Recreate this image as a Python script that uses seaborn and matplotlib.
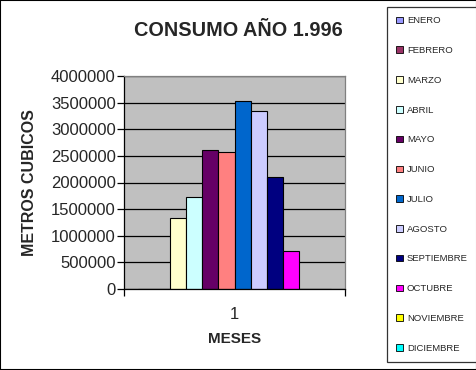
import pandas as pd
import seaborn as sns
import matplotlib.pyplot as plt
from matplotlib.patches import Patch, Rectangle

# datos
meses = ['ENERO', 'FEBRERO', 'MARZO', 'ABRIL', 'MAYO', 'JUNIO', 'JULIO',
         'AGOSTO', 'SEPTIEMBRE', 'OCTUBRE', 'NOVIEMBRE', 'DICIEMBRE']
consumo = [0, 0, 1333000, 1728000, 2610000, 2573000, 3536000,
           3343000, 2109000, 720000, 0, 0]
categoria = ['1'] * len(meses)
colores = ['#9999FF', '#993366', '#FFFFCC', '#CCFFFF', '#660066', '#FF8080',
           '#0066CC', '#CCCCFF', '#000080', '#FF00FF', '#FFFF00', '#00FFFF']
yticks = [0, 500000, 1000000, 1500000, 2000000, 2500000, 3000000, 3500000, 4000000]

df = pd.DataFrame({'grupo': categoria, 'mes': meses, 'valor': consumo})

sns.set_style("white")
plt.rcParams['font.family'] = ['Liberation Sans', 'DejaVu Sans']

fig = plt.figure(figsize=(4.77, 3.7), dpi=100)
ax = fig.add_axes([124 / 477, 1 - 289 / 370, 221 / 477, 213 / 370])
ax.set_facecolor('#C0C0C0')

sns.barplot(data=df, x='grupo', y='valor', hue='mes', hue_order=meses,
            palette=colores, edgecolor='black', linewidth=0.8, width=0.87,
            saturation=1, legend=False, ax=ax)

ax.set_ylim(0, 4000000)
ax.set_xlim(-0.5, 0.5)
ax.set_yticks(yticks)
ax.set_yticklabels([str(v) for v in yticks], fontsize=12)
ax.yaxis.grid(True, color='black', linewidth=0.9)
ax.set_axisbelow(True)
ax.tick_params(axis='y', length=5, width=0.9, color='black', pad=1, left=True)
ax.set_xticks([0])
ax.set_xticklabels(['1'], fontsize=12)
ax.set_xticks([-0.5, 0.5], minor=True)
ax.tick_params(axis='x', which='major', length=0, pad=13)
ax.tick_params(axis='x', which='minor', length=5, width=0.9, color='black', bottom=True)

for s in ['left', 'bottom']:
    ax.spines[s].set_color('black')
    ax.spines[s].set_linewidth(0.9)
for s in ['top', 'right']:
    ax.spines[s].set_color('#808080')
    ax.spines[s].set_linewidth(0.9)

ax.set_xlabel('MESES', fontsize=11, fontweight='bold', labelpad=7)
ax.set_ylabel('METROS CUBICOS', fontsize=11.5, fontweight='bold', labelpad=10)
fig.text(238 / 477, 1 - 31 / 370, 'CONSUMO AÑO 1.996', fontsize=14.3,
         fontweight='bold', ha='center', va='center')

handles = [Patch(facecolor=c, edgecolor='black', linewidth=0.6) for c in colores]
leg = fig.legend(handles, meses, loc='center', bbox_to_anchor=(432 / 477, 1 - 184.5 / 370),
                 fontsize=6.8, frameon=True, fancybox=False, edgecolor='black',
                 handlelength=0.7, handleheight=0.7, handletextpad=0.4,
                 labelspacing=2.2, borderpad=1.0, borderaxespad=0)
leg.get_frame().set_linewidth(0.9)

# borde de la figura
fig.patches.append(Rectangle((0, 0), 1, 1, transform=fig.transFigure, fill=False,
                             edgecolor='black', linewidth=1.5))

plt.savefig('out.png', dpi=100)
